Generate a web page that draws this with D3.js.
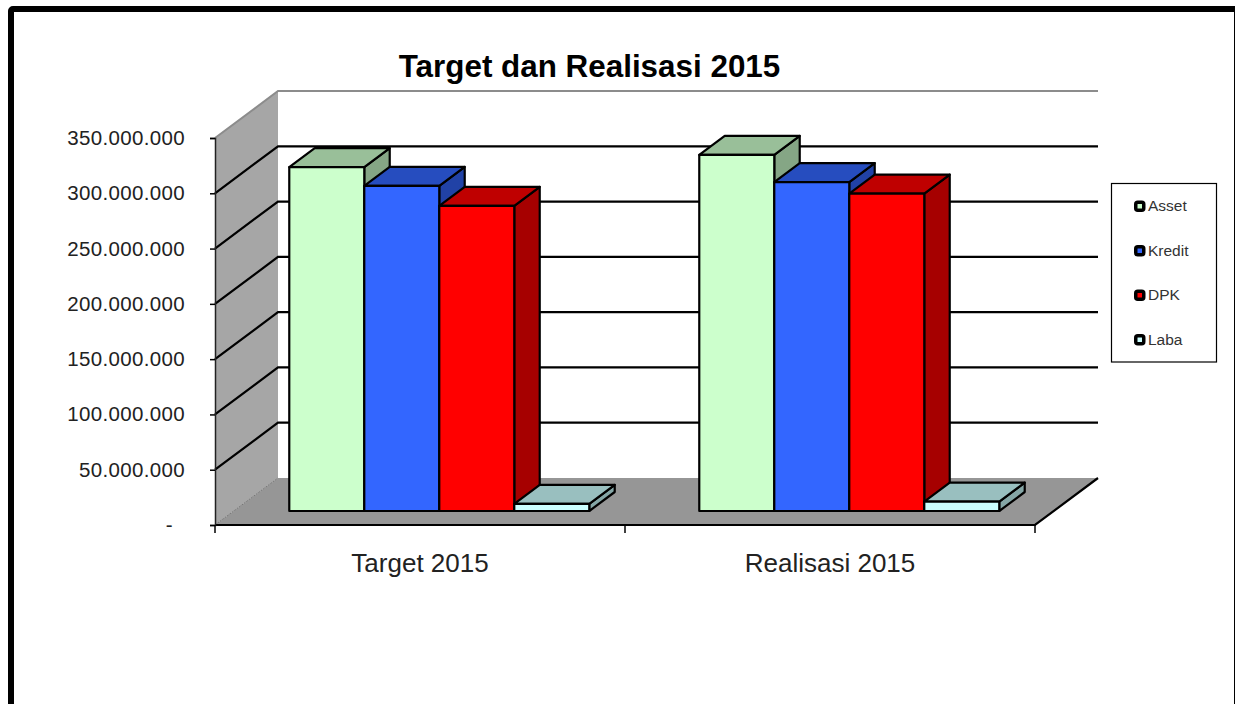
<!DOCTYPE html>
<html>
<head>
<meta charset="utf-8">
<script src="https://cdn.jsdelivr.net/npm/d3@7"></script>
<style>
    html, body { margin: 0; padding: 0; background: #fff; overflow: hidden; }
    text { font-family: "Liberation Sans", Arial, sans-serif; }
</style>
</head>
<body>
<div class="chart"></div>
<script>
// data
const categories = ["Target 2015", "Realisasi 2015"];
const series_names = ["Asset", "Kredit", "DPK", "Laba"];
const asset_values = [311000000, 322000000];
const kredit_values = [294000000, 297500000];
const dpk_values = [276000000, 287000000];
const laba_values = [6500000, 8500000];
const y_ticks = [0, 50000000, 100000000, 150000000, 200000000, 250000000, 300000000, 350000000];
const series_values = [asset_values, kredit_values, dpk_values, laba_values];
const series_colors = ["#CCFFCC", "#3366FF", "#FF0000", "#CCFFFF"];

// constants
const width = 1235;
const height = 704;
const depth_x = 63;
const depth_y = 47;
const bar_z0 = 0.298;
const bar_z1 = 0.702;

const svg = d3.select(".chart").append("svg")
    .attr("width", width)
    .attr("height", height)
    .style("display", "block");

// frame, the right side is mostly cut off by the picture edge
svg.append("rect")
    .attr("x", 11)
    .attr("y", 9)
    .attr("width", 1226)
    .attr("height", 740)
    .attr("rx", 2)
    .attr("fill", "#fff")
    .attr("stroke", "#000")
    .attr("stroke-width", 6);

// scales
const x_scale = d3.scaleBand().domain(categories).range([215, 1035]);
const x_inner = d3.scaleBand().domain(series_names).range([55.5, 355.5]);
const y_scale = d3.scaleLinear().domain([0, 350000000]).range([525, 138]);
const legend_y = d3.scalePoint().domain(series_names).range([206, 339.5]);

// point in the 3d box: x and y on the front plane, z goes to the back wall
function project(x, y, z) {
    return [x + z * depth_x, y - z * depth_y];
}
function poly(points) {
    return d3.line()(points) + "Z";
}

const x_min = x_scale.range()[0];
const x_max = x_scale.range()[1];
const y_base = y_scale(0);
const y_top = y_scale(350000000);

// left wall
svg.append("path")
    .attr("d", poly([[x_min, y_base], [x_min, y_top], project(x_min, y_top, 1), project(x_min, y_base, 1)]))
    .attr("fill", "#A6A6A6");

// floor
svg.append("path")
    .attr("d", poly([[x_min, y_base], project(x_min, y_base, 1), project(x_max, y_base, 1), [x_max, y_base]]))
    .attr("fill", "#969696");

// top edges of the walls
svg.append("path")
    .attr("d", d3.line()([[x_min, y_top], project(x_min, y_top, 1), project(x_max, y_top, 1)]))
    .attr("fill", "none")
    .attr("stroke", "#8c8c8c")
    .attr("stroke-width", 2);

// wall / floor seam
svg.append("path")
    .attr("d", d3.line()([[x_min, y_base], project(x_min, y_base, 1)]))
    .attr("fill", "none")
    .attr("stroke", "#777")
    .attr("stroke-width", 1)
    .attr("stroke-dasharray", "2,1");

// gridlines
svg.selectAll(".grid")
    .data(y_ticks.slice(1, -1))
    .enter()
    .append("path")
    .attr("class", "grid")
    .attr("d", d => d3.line()([[x_min, y_scale(d)], project(x_min, y_scale(d), 1), project(x_max, y_scale(d), 1)]))
    .attr("fill", "none")
    .attr("stroke", "#000")
    .attr("stroke-width", 2.2);

// floor front and right edge
svg.append("path")
    .attr("d", d3.line()([[x_min, y_base], [x_max, y_base], project(x_max, y_base, 1)]))
    .attr("fill", "none")
    .attr("stroke", "#000")
    .attr("stroke-width", 2.2);

// y axis
const y_axis = d3.axisLeft(y_scale)
    .tickValues(y_ticks)
    .tickSize(5)
    .tickFormat(d => d === 0 ? "-" : d3.format(",")(d).replace(/,/g, "."));
const y_group = svg.append("g")
    .attr("class", "y axis")
    .attr("transform", "translate(" + x_min + ",0)")
    .call(y_axis);
y_group.select(".domain").attr("stroke", "#222").attr("stroke-width", 1.5);
y_group.selectAll("line").attr("stroke", "#000").attr("stroke-width", 1.5);
y_group.selectAll("text")
    .attr("font-size", 20.5)
    .attr("letter-spacing", 0.35)
    .attr("fill", "#222")
    .attr("x", d => d === 0 ? -42 : -30);

// x axis, ticks sit on the band edges
const x_axis = d3.axisBottom(x_scale).tickSize(0).tickPadding(29);
const x_group = svg.append("g")
    .attr("class", "x axis")
    .attr("transform", "translate(0," + y_base + ")")
    .call(x_axis);
x_group.select(".domain").remove();
x_group.selectAll("text")
    .attr("font-size", 26)
    .attr("fill", "#222");
svg.selectAll(".x-tick")
    .data(categories.map(d => x_scale(d)).concat([x_max]))
    .enter()
    .append("line")
    .attr("class", "x-tick")
    .attr("x1", d => d)
    .attr("x2", d => d)
    .attr("y1", y_base)
    .attr("y2", y_base + 8)
    .attr("stroke", "#000")
    .attr("stroke-width", 1.5);

// bars
function shade(color, k) {
    const c = d3.rgb(color);
    return d3.rgb(c.r * k, c.g * k, c.b * k).formatHex();
}

categories.forEach(function(category, c) {
    series_names.forEach(function(name, s) {
        const color = series_colors[s];
        const x0 = x_scale(category) + x_inner(name);
        const x1 = x0 + x_inner.bandwidth();
        const y1 = y_scale(series_values[s][c]);
        const bar = svg.append("g")
            .attr("class", "bar")
            .attr("stroke", "#000")
            .attr("stroke-width", 2.2)
            .attr("stroke-linejoin", "round");

        bar.append("path")
            .attr("fill", shade(color, 0.65))
            .attr("d", poly([project(x1, y_base, bar_z0), project(x1, y_base, bar_z1), project(x1, y1, bar_z1), project(x1, y1, bar_z0)]));
        bar.append("path")
            .attr("fill", shade(color, 0.75))
            .attr("d", poly([project(x0, y1, bar_z0), project(x0, y1, bar_z1), project(x1, y1, bar_z1), project(x1, y1, bar_z0)]));
        bar.append("path")
            .attr("fill", color)
            .attr("d", poly([project(x0, y_base, bar_z0), project(x0, y1, bar_z0), project(x1, y1, bar_z0), project(x1, y_base, bar_z0)]));
    });
});

// title
svg.append("text")
    .attr("x", 589.5)
    .attr("y", 77)
    .attr("text-anchor", "middle")
    .attr("font-size", 31.4)
    .attr("font-weight", "bold")
    .attr("fill", "#000")
    .text("Target dan Realisasi 2015");

// legend
svg.append("rect")
    .attr("x", 1111.5)
    .attr("y", 183.5)
    .attr("width", 105)
    .attr("height", 178.5)
    .attr("fill", "#fff")
    .attr("stroke", "#000")
    .attr("stroke-width", 1.2);

const legend = svg.selectAll(".legend-item")
    .data(series_names)
    .enter()
    .append("g")
    .attr("class", "legend-item")
    .attr("transform", d => "translate(1134," + legend_y(d) + ")");
legend.append("rect")
    .attr("x", 1.75)
    .attr("y", -3.75)
    .attr("width", 8)
    .attr("height", 8)
    .attr("rx", 2)
    .attr("fill", (d, i) => series_colors[i])
    .attr("stroke", "#000")
    .attr("stroke-width", 3.5);
legend.append("text")
    .attr("x", 14)
    .attr("y", 5)
    .attr("font-size", 15.5)
    .attr("fill", "#333")
    .text(d => d);
</script>
</body>
</html>
